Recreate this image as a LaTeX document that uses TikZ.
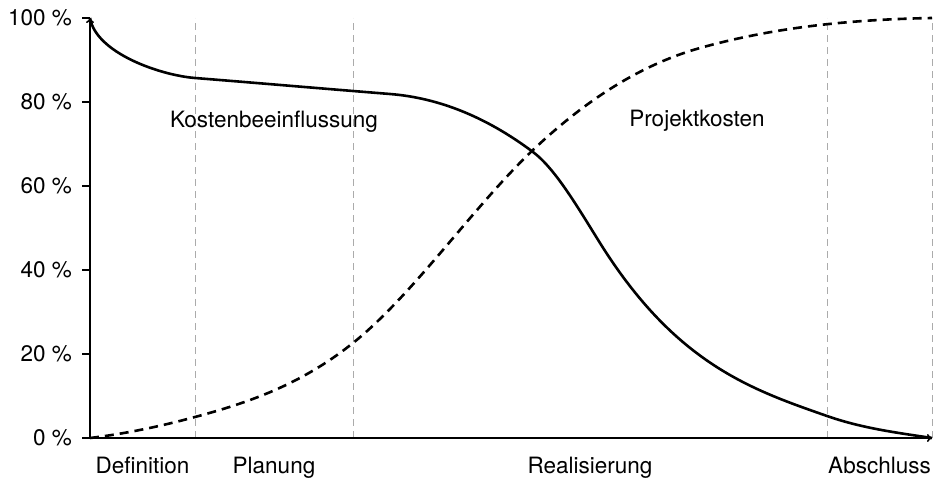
\documentclass[tikz,border=0pt]{standalone}
\usepackage{fontspec}
\setmainfont{TeX Gyre Heros}
\usepackage{tikz}
\usetikzlibrary{positioning,arrows.meta}

\begin{document}
\begin{tikzpicture}[x=1pt, y=1pt, every node/.style={font=\fontsize{22.5}{27}\selectfont, inner sep=0pt}, axis/.style={line width=1.6pt}, phase/.style={draw=black!33, line width=0.9pt, dash pattern=on 7pt off 5pt}, influence/.style={line width=2.6pt}, costs/.style={line width=2.6pt, dash pattern=on 9pt off 6pt}]
\useasboundingbox (-90,-41) rectangle (847,438);
\coordinate (origin) at (0,0); \coordinate (xend) at (842,0); \coordinate (yend) at (0,420);
% phase borders
\foreach \px/\pname in {105/def, 263/plan, 737/real, 842/absch} {\coordinate (\pname top) at (\px,420); \coordinate (\pname bot) at (\px,0); \draw[phase] (\pname bot) -- (\pname top);}
% curves
\draw[influence] (yend) .. controls (6,385) and (70,362.8) .. (105,360) .. controls (170,354.8) and (235,349.2) .. (300,344)
  .. controls (347.7,340.2) and (395.3,321.8) .. (443,286) .. controls (465.3,269.3) and (487.7,230.7) .. (510,195)
  .. controls (585.7,74) and (661.3,48.5) .. (737,22) .. controls (772,9.75) and (807,5.25) .. (xend);
\draw[costs] (origin) .. controls (35,4.2) and (70,11.55) .. (105,21) .. controls (157.7,35.2) and (210.3,52.9) .. (263,95)
  .. controls (323,143) and (383,231) .. (443,288) .. controls (498.7,340.9) and (554.3,374.4) .. (610,390)
  .. controls (687.3,411.6) and (764.7,418.5) .. (842,420);
% axes
\draw[axis, -{To[length=5pt, width=8pt]}] (origin) -- (xend);
\draw[axis, -{To[length=5pt, width=8pt]}] (origin) -- (yend);
\foreach \v in {0,20,40,60,80,100} {\draw[axis] (-8,4.2*\v) -- (0,4.2*\v); \node[anchor=east] (tick\v) at (-18,4.2*\v) {\v~\%};}
% labels
\node[anchor=base] (def) at (52.5,-35) {Definition};
\node[anchor=base] (plan) at (184,-35) {Planung};
\node[anchor=base] (real) at (500,-35) {Realisierung};
\node[anchor=base] (absch) at (789.5,-35) {Abschluss};
\node[anchor=base] (infl) at (184,310) {Kostenbeeinflussung};
\node[anchor=base] (proj) at (607,311) {Projektkosten};
\end{tikzpicture}
\end{document}
